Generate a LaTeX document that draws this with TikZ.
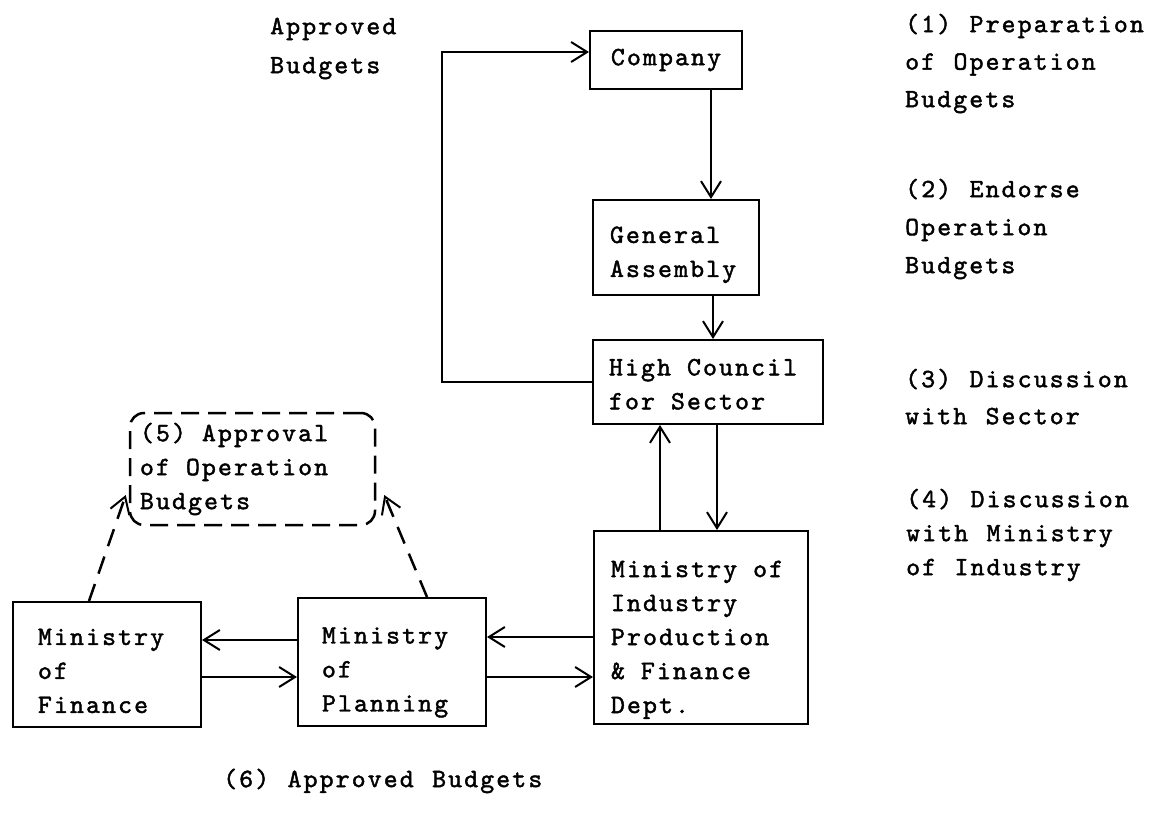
\documentclass[tikz,border=0pt]{standalone}
\usepackage{fontspec}
\usetikzlibrary{arrows.meta}
\newfontfamily\typewriter{lmmono10-regular}[Extension=.otf, LetterSpace=8, WordSpace=1.15, FakeBold=1.6]
\newcommand{\boxfont}{\typewriter\fontsize{26.5}{34}\selectfont}
\newcommand{\notefont}[1]{\typewriter\fontsize{26.5}{#1}\selectfont}

\begin{document}
\begin{tikzpicture}[x=1pt, y=-1pt,
  box/.style={draw, line width=2pt, inner ysep=0pt, font=\boxfont, align=left},
  % full-pitch word spaces and a lowered first line inside the boxes
  textdrop/.style={execute at begin node={\spaceskip=16.03pt\relax\xspaceskip=16.03pt\relax\rule{0pt}{#1}}},
  arr/.style={line width=2pt, -{Straight Barb[length=16pt,width=20pt,line width=2pt]}},
  dasharr/.style={arr, line width=2.5pt, dash pattern=on 18pt off 11pt},
  note/.style={anchor=north west, inner sep=0pt, align=left}
]
\useasboundingbox (0,0) rectangle (1160,820);

% boxes of the approval chain
\node[box, minimum width=152pt, minimum height=58pt, inner xsep=0pt, align=center] (comp) at (666,60) {Company};
\node[box, minimum width=166pt, minimum height=95pt, inner xsep=17pt, text width=132pt, textdrop=31pt] (ga) at (676,247.5) {General\\Assembly};
\node[box, minimum width=230pt, minimum height=84pt, inner xsep=16pt, text width=198pt, textdrop=21pt] (hc) at (708,382) {High Council\\for Sector};
\node[box, minimum width=214pt, minimum height=193pt, inner xsep=17pt, text width=180pt, textdrop=41pt] (moi) at (701,627.5) {Ministry of\\Industry\\Production\\\& Finance\\Dept.};
\node[box, minimum width=188pt, minimum height=128pt, inner xsep=24pt, text width=140pt, textdrop=37pt] (mop) at (392,662) {Ministry\\of\\Planning};
\node[box, minimum width=188pt, minimum height=125pt, inner xsep=25pt, text width=138pt, textdrop=29pt] (mof) at (107,664.5) {Ministry\\of\\Finance};
\node[box, line width=2.5pt, dash pattern=on 18pt off 9pt, rounded corners=14pt,
      minimum width=245pt, minimum height=112pt, inner xsep=10pt, text width=225pt, textdrop=0pt] (appr) at (252.5,469)
      {(5) Approval\\of Operation\\Budgets};

% step notes
\node[note, font=\notefont{39}] (appbud) at (270,6.7) {\strut Approved\\Budgets};
\node[note, font=\notefont{37.5}] (s1) at (905,5.75) {\strut(1) Preparation\\of Operation\\Budgets};
\node[note, font=\notefont{38}] (s2) at (905,170.4) {\strut(2) Endorse\\Operation\\Budgets};
\node[note, font=\notefont{37}] (s3) at (905,361.1) {\strut(3) Discussion\\with Sector};
\node[note, font=\notefont{34}] (s4) at (906,483.2) {\strut(4) Discussion\\with Ministry\\of Industry};
\node[note, font=\notefont{37}] (s6) at (223,761) {\strut(6) Approved Budgets};

% solid flows
\draw[arr] (hc.west) -- ++(-150,0) |- ([yshift=8pt]comp.west);
\draw[arr] ([xshift=45pt]comp.south) -- ([xshift=45pt]comp.south |- ga.north);
\draw[arr] ([xshift=37pt]ga.south) -- ([xshift=37pt]ga.south |- hc.north);
\draw[arr] ([xshift=-41pt]moi.north) -- ([xshift=-41pt]moi.north |- hc.south);
\draw[arr] ([xshift=16pt]moi.north |- hc.south) -- ([xshift=16pt]moi.north);
\draw[arr] ([yshift=-9.5pt]moi.west) -- ([yshift=-9.5pt]moi.west -| mop.east);
\draw[arr] ([yshift=-15pt]mop.east) -- ([yshift=-15pt]mop.east -| moi.west);
\draw[arr] ([yshift=22pt]mop.west) -- ([yshift=22pt]mop.west -| mof.east);
\draw[arr] ([yshift=-12.5pt]mof.east) -- ([yshift=-12.5pt]mof.east -| mop.west);

% dashed flows to the approval step
\draw[dasharr] ([xshift=-18pt]mof.north) -- ([xshift=-3pt,yshift=-26pt]appr.west);
\draw[dasharr] ([xshift=35pt]mop.north) -- ([xshift=8pt,yshift=-26pt]appr.east);
\end{tikzpicture}
\end{document}
